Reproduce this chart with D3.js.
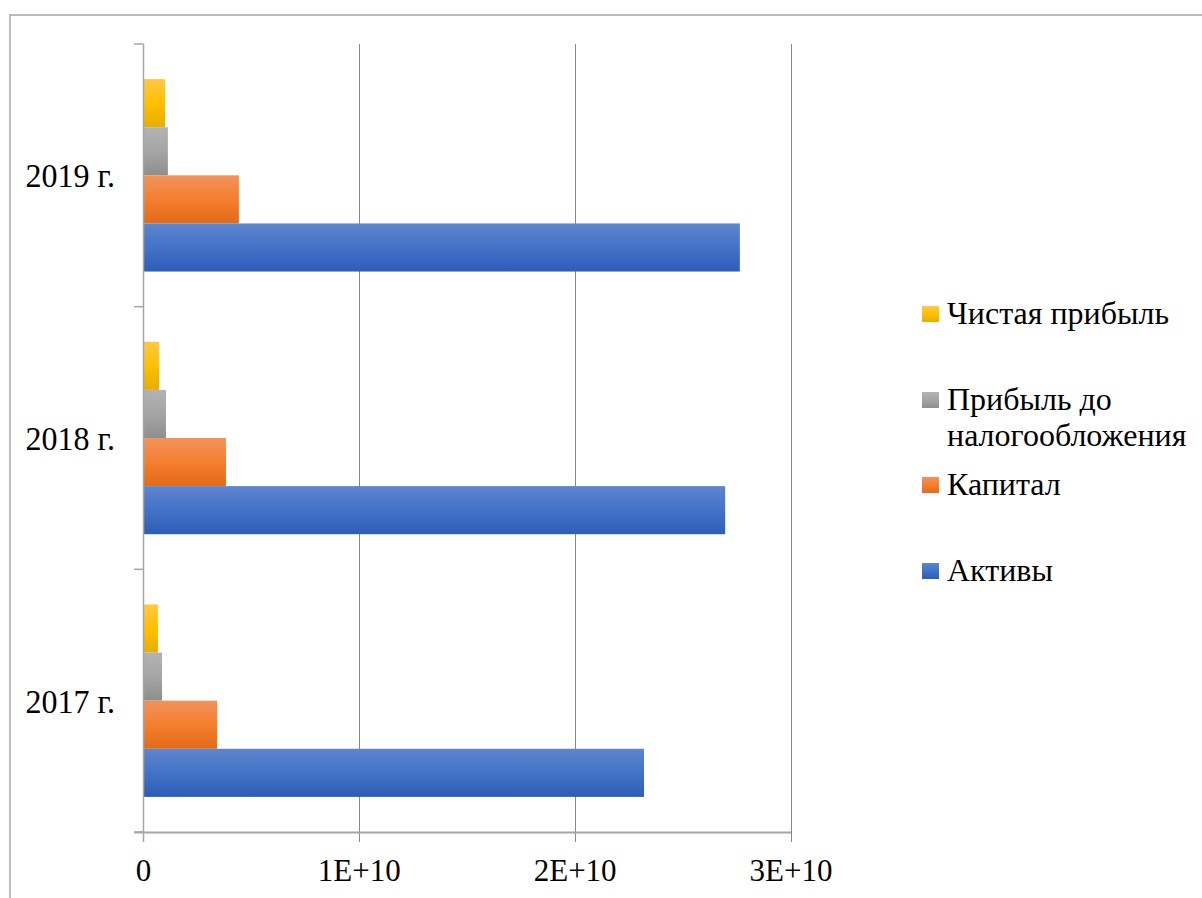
<!DOCTYPE html>
<html>
<head>
<meta charset="utf-8">
<script src="https://cdn.jsdelivr.net/npm/d3@7"></script>
<style>
  html, body { margin: 0; padding: 0; background: #fff; }
  svg { display: block; }
</style>
</head>
<body>
<svg id="chart" width="1202" height="898" font-family="'Liberation Serif', 'Times New Roman', serif"></svg>
<script>
// Years (top to bottom) and series values
const categories = ["2019 г.", "2018 г.", "2017 г."];
const seriesNames = ["Чистая прибыль", "Прибыль до налогообложения", "Капитал", "Активы"];
const netProfit   = [0.100e10, 0.072e10, 0.067e10];
const preTaxProfit = [0.113e10, 0.104e10, 0.086e10];
const capital     = [0.442e10, 0.382e10, 0.341e10];
const assets      = [2.763e10, 2.695e10, 2.319e10];
const xTicks = [0, 1e10, 2e10, 3e10];
const xTickLabels = ["0", "1E+10", "2E+10", "3E+10"];
const legendLines = [["Чистая прибыль"], ["Прибыль до", "налогообложения"], ["Капитал"], ["Активы"]];

const seriesValues = [netProfit, preTaxProfit, capital, assets];
const gradients = [
  ["#ffc845", "#ffc000", "#e8ad00"],
  ["#b3b3b3", "#a5a5a5", "#8e8e8e"],
  ["#f1935e", "#f47f2f", "#e26a19"],
  ["#5f85cd", "#4372c8", "#2d5db6"]
];

const svg = d3.select("#chart");

// gradient fills
const defs = svg.append("defs");
gradients.forEach((g, i) => {
  const lg = defs.append("linearGradient").attr("id", "grad" + i)
    .attr("x1", 0).attr("y1", 0).attr("x2", 0).attr("y2", 1);
  lg.append("stop").attr("offset", "0%").attr("stop-color", g[0]);
  lg.append("stop").attr("offset", "50%").attr("stop-color", g[1]);
  lg.append("stop").attr("offset", "100%").attr("stop-color", g[2]);
});

// outer frame
svg.append("rect").attr("x", 10).attr("y", 15).attr("width", 1230).attr("height", 920)
  .attr("fill", "none").attr("stroke", "#a6a6a6").attr("stroke-width", 1.5);

const x = d3.scaleLinear().domain([0, 3e10]).range([143.5, 791]);
const y = d3.scaleBand().domain(categories).range([44, 832]);
const inner = d3.scaleBand().domain(seriesNames).range([0, y.bandwidth()])
  .paddingInner(0).paddingOuter(0.73);

// vertical gridlines
svg.append("g").selectAll("line").data(xTicks.slice(1)).join("line")
  .attr("x1", d => Math.round(x(d)) + 0.5).attr("x2", d => Math.round(x(d)) + 0.5)
  .attr("y1", 44).attr("y2", 842)
  .attr("stroke", "#898989").attr("stroke-width", 1);

// bars
const groups = svg.append("g").selectAll("g").data(categories).join("g")
  .attr("transform", d => `translate(0,${y(d)})`);
groups.selectAll("rect")
  .data((c, ci) => seriesNames.map((s, si) => ({ s, si, v: seriesValues[si][ci] })))
  .join("rect")
  .attr("x", x(0))
  .attr("y", d => inner(d.s))
  .attr("width", d => x(d.v) - x(0))
  .attr("height", inner.bandwidth())
  .attr("fill", d => `url(#grad${d.si})`);

// y axis
const yAxis = svg.append("g");
yAxis.append("line").attr("x1", 143.5).attr("x2", 143.5).attr("y1", 44).attr("y2", 842)
  .attr("stroke", "#a6a6a6").attr("stroke-width", 1.5);
const yBounds = categories.map(c => y(c)).concat([y.range()[1]]);
yAxis.selectAll("line.tick").data(yBounds).join("line").attr("class", "tick")
  .attr("x1", 134).attr("x2", 143.5)
  .attr("y1", d => d).attr("y2", d => d)
  .attr("stroke", "#a6a6a6").attr("stroke-width", 1.5);
yAxis.selectAll("text").data(categories).join("text")
  .attr("transform", d => `translate(115,${y(d) + y.bandwidth() / 2 + 12}) scale(1,1.06)`)
  .attr("text-anchor", "end")
  .attr("font-size", 32)
  .attr("fill", "#000")
  .text(d => d);

// x axis
const xAxis = svg.append("g");
xAxis.append("line").attr("x1", 134).attr("x2", 791).attr("y1", 832.5).attr("y2", 832.5)
  .attr("stroke", "#a6a6a6").attr("stroke-width", 2);
xAxis.selectAll("text").data(xTicks).join("text")
  .attr("x", d => x(d)).attr("y", 881)
  .attr("text-anchor", "middle")
  .attr("font-size", 31)
  .attr("fill", "#000")
  .text((d, i) => xTickLabels[i]);

// legend
const legendY = [322, 408, 493, 579];
const legend = svg.append("g").selectAll("g").data(seriesNames).join("g");
legend.append("rect")
  .attr("x", 922).attr("y", (d, i) => legendY[i] - 16)
  .attr("width", 17).attr("height", 16)
  .attr("fill", (d, i) => `url(#grad${i})`);
legend.each(function (d, i) {
  const t = d3.select(this).append("text").attr("font-size", 32).attr("fill", "#000");
  legendLines[i].forEach((line, li) => {
    t.append("tspan").attr("x", 947).attr("y", legendY[i] + 2 + li * 36).text(line);
  });
});
</script>
</body>
</html>
